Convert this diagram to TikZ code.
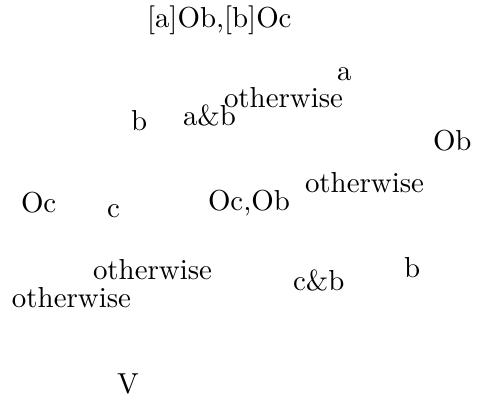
\documentclass[tikz,border=0pt]{standalone}
\begin{document}
\begin{tikzpicture}[x=0.346pt,y=-0.346pt,
  lbl/.style={inner sep=0pt,outer sep=0pt,anchor=base west,font=\normalsize}]
\useasboundingbox (0,0) rectangle (481,399);
\node[lbl] (t1) at (147,27) {[a]Ob,[b]Oc};
\node[lbl] (t2) at (337,80) {a};
\node[lbl] (t3) at (224,107) {otherwise};
\node[lbl] (t4) at (131,130) {b};
\node[lbl] (t5) at (183,125) {a\&b};
\node[lbl] (t6) at (433,150) {Ob};
\node[lbl] (t7) at (305,192) {otherwise};
\node[lbl] (t8) at (21,212) {Oc};
\node[lbl] (t9) at (107,217) {c};
\node[lbl] (t10) at (208,210) {Oc,Ob};
\node[lbl] (t11) at (93,279) {otherwise};
\node[lbl] (t12) at (12,307) {otherwise};
\node[lbl] (t13) at (293,290) {c\&b};
\node[lbl] (t14) at (404,277) {b};
\node[lbl] (t15) at (117,393) {V};
\end{tikzpicture}
\end{document}
